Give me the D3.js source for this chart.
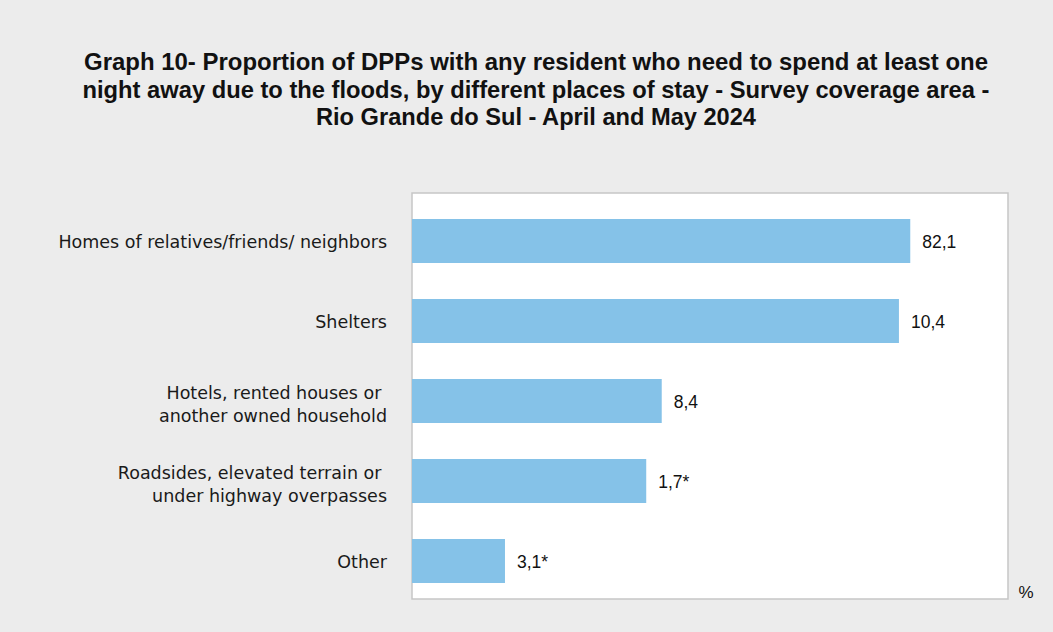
<!DOCTYPE html>
<html>
<head>
<meta charset="utf-8">
<script src="https://cdn.jsdelivr.net/npm/d3@7"></script>
<style>
  body { margin: 0; background: #ececec; }
  svg { display: block; }
</style>
</head>
<body>
<svg id="chart"></svg>
<script>
// categories, two lines where the original wraps
var categories = [
    ["Homes of relatives/friends/ neighbors"],
    ["Shelters"],
    ["Hotels, rented houses or ", "another owned household"],
    ["Roadsides, elevated terrain or ", "under highway overpasses"],
    ["Other"]
];
// bar lengths as drawn in the picture (0-100 scale)
var barLengths = [83.6, 81.7, 41.9, 39.3, 15.6];
// value labels printed next to the bars
var valueLabels = ["82,1", "10,4", "8,4", "1,7*", "3,1*"];
var titleLines = [
    "Graph 10- Proportion of DPPs with any resident who need to spend at least one",
    "night away due to the floods, by different places of stay - Survey coverage area -",
    "Rio Grande do Sul - April and May 2024"
];
var titleWidths = [904, 907, 440];

var W = 1053, H = 632;
var box = { left: 412, right: 1008, top: 193, bottom: 599 };

var svg = d3.select("#chart")
    .attr("width", W)
    .attr("height", H);

svg.append("rect")
    .attr("width", W)
    .attr("height", H)
    .attr("fill", "#ececec");

svg.selectAll(".title")
    .data(titleLines)
    .enter().append("text")
    .attr("class", "title")
    .attr("x", 536)
    .attr("y", function(d, i) { return 70 + i * 27.5; })
    .attr("text-anchor", "middle")
    .attr("textLength", function(d, i) { return titleWidths[i]; })
    .attr("lengthAdjust", "spacingAndGlyphs")
    .style("font-family", "'Liberation Sans', Arial, sans-serif")
    .style("font-weight", "bold")
    .style("font-size", "24px")
    .style("fill", "#111")
    .text(function(d) { return d; });

svg.append("rect")
    .attr("x", box.left)
    .attr("y", box.top)
    .attr("width", box.right - box.left)
    .attr("height", box.bottom - box.top)
    .attr("fill", "#fff")
    .attr("stroke", "#c6c6c6")
    .attr("stroke-width", 1.5);

var x = d3.scaleLinear()
    .domain([0, 100])
    .range([box.left, box.right]);

var y = d3.scaleBand()
    .domain(d3.range(categories.length))
    .range([201, 601])
    .paddingInner(0.45)
    .paddingOuter(0.225);

svg.selectAll(".bar")
    .data(barLengths)
    .enter().append("rect")
    .attr("class", "bar")
    .attr("x", x(0))
    .attr("y", function(d, i) { return y(i); })
    .attr("width", function(d) { return x(d) - x(0); })
    .attr("height", y.bandwidth())
    .attr("fill", "#85c2e8");

svg.selectAll(".value")
    .data(valueLabels)
    .enter().append("text")
    .attr("class", "value")
    .attr("x", function(d, i) { return x(barLengths[i]) + 12; })
    .attr("y", function(d, i) { return y(i) + y.bandwidth() / 2 + 7; })
    .style("font-family", "'Liberation Sans', Arial, sans-serif")
    .style("font-size", "17.5px")
    .style("fill", "#111")
    .text(function(d) { return d; });

var cat = svg.selectAll(".cat")
    .data(categories)
    .enter().append("text")
    .attr("class", "cat")
    .attr("text-anchor", "end")
    .style("font-family", "'DejaVu Sans', sans-serif")
    .style("font-size", "17.5px")
    .style("fill", "#1a1a1a");

cat.each(function(lines, i) {
    var cy = y(i) + y.bandwidth() / 2;
    var start = lines.length > 1 ? cy - 2 : cy + 7;
    d3.select(this).selectAll("tspan")
        .data(lines)
        .enter().append("tspan")
        .attr("x", 387)
        .attr("y", function(d, j) { return start + j * 23; })
        .style("white-space", "pre")
        .text(function(d) { return d; });
});

svg.append("text")
    .attr("x", 1026)
    .attr("y", 598)
    .attr("text-anchor", "middle")
    .style("font-family", "'Liberation Sans', Arial, sans-serif")
    .style("font-size", "17px")
    .style("fill", "#111")
    .text("%");
</script>
</body>
</html>
